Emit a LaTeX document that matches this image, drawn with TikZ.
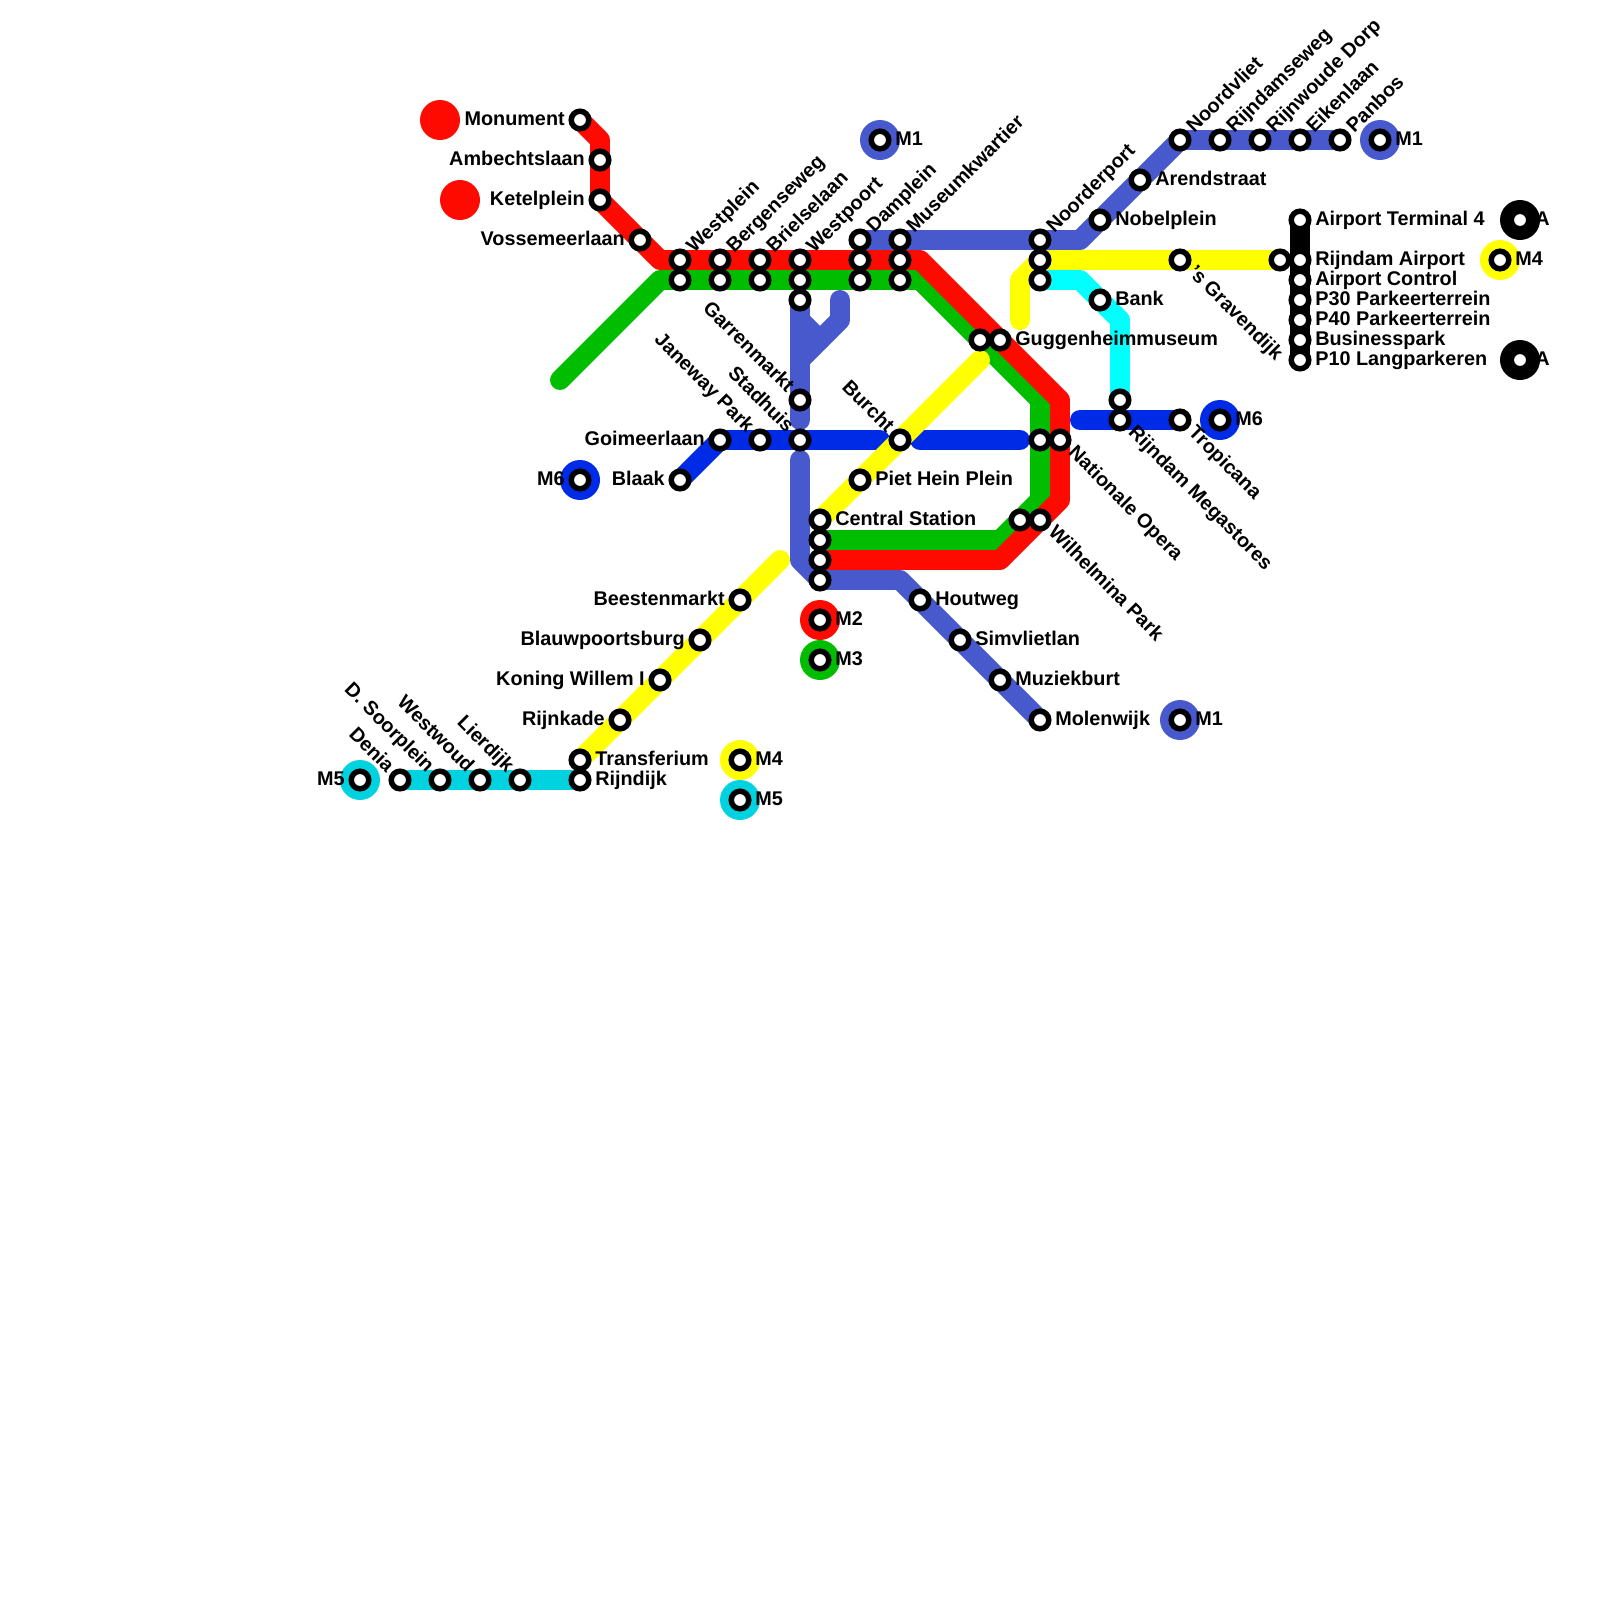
\documentclass[tikz,border=0pt]{standalone}
\usepackage{fontspec}
\setmainfont{Liberation Sans}
\usetikzlibrary{positioning}
\pgfdeclarelayer{lines}
\pgfsetlayers{lines,main}
\definecolor{mred}{HTML}{FF0A00}
\definecolor{mgreen}{HTML}{00BD00}
\definecolor{mblue}{HTML}{4759CC}
\definecolor{mroyal}{HTML}{002BE6}
\definecolor{myellow}{HTML}{FFFF00}
\definecolor{mcyan}{HTML}{00FFFF}
\definecolor{mteal}{HTML}{00D2E0}
\tikzset{
  stn/.style={circle, draw=black, fill=white, line width=3.9pt, minimum size=12.5pt, inner sep=0pt},
  term/.style={circle, fill=#1, minimum size=28.45pt, inner sep=0pt},
  route/.style={draw=#1, line width=14.2pt, line cap=round, line join=round},
  lbl/.style={font=\fontsize{14.1}{16}\selectfont\bfseries, inner sep=0pt, text height=10.2pt, text depth=3pt},
  lblr/.style={lbl, anchor=west},
  lbll/.style={lbl, anchor=east},
  lblu/.style={lbl, anchor=west, rotate=45},
  lbld/.style={lbl, anchor=west, rotate=-45},
  lblb/.style={lbl, anchor=east, rotate=-45}
}
\begin{document}
\begin{tikzpicture}[x=0.5cm, y=-0.5cm]
  \useasboundingbox (0,0) rectangle (80,80);

  % 终点大圆
  \foreach \n/\x/\y/\c in {tm1a/44/7/mblue, tm1b/69/7/mblue, tm1c/59/36/mblue, tm2/41/31/mred, tm3/41/33/mgreen,
    tm4a/37/38/myellow, tm4b/75/13/myellow, tm5a/37/40/mteal, tm5b/18/39/mteal, tm6a/29/24/mroyal, tm6b/61/21/mroyal,
    taa/76/11/black, tab/76/18/black, tra/22/6/mred, trb/23/10/mred}
    \node[term=\c] (\n) at (\x,\y) {};

  % 标签在右
  \foreach \n/\x/\y/\lab in {airport4/65/11/Airport Terminal 4, rijndamair/65/13/Rijndam Airport, control/65/14/Airport Control,
    ptrent/65/15/P30 Parkeerterrein, pforty/65/16/P40 Parkeerterrein, business/65/17/Businesspark, pten/65/18/P10 Langparkeren,
    arend/57/9/Arendstraat, nobel/55/11/Nobelplein, bank/55/15/Bank, guggen/50/17/Guggenheimmuseum,
    piethein/43/24/Piet Hein Plein, central/41/26/Central Station, houtweg/46/30/Houtweg, simvliet/48/32/Simvlietlan,
    muziek/50/34/Muziekburt, molenwijk/52/36/Molenwijk, transfer/29/38/Transferium, rijndijk/29/39/Rijndijk,
    em1a/44/7/M1, em1b/69/7/M1, em1c/59/36/M1, em2/41/31/M2, em3/41/33/M3, em4a/37/38/M4, em4b/75/13/M4,
    em5a/37/40/M5, em6b/61/21/M6, eaa/76/11/A, eab/76/18/A}
  {
    \node[stn] (\n) at (\x,\y) {};
    \node[lblr] (\n-t) at (\x+0.75,\y) {\lab};
  }

  % 标签在左
  \foreach \n/\x/\y/\lab in {monument/29/6/Monument, ambecht/30/8/Ambechtslaan, ketel/30/10/Ketelplein, vosse/32/12/Vossemeerlaan,
    goimeer/36/22/Goimeerlaan, blaak/34/24/Blaak, beesten/37/30/Beestenmarkt, blauw/35/32/Blauwpoortsburg,
    koning/33/34/Koning Willem I, rijnkade/31/36/Rijnkade, em5b/18/39/M5, em6a/29/24/M6}
  {
    \node[stn] (\n) at (\x,\y) {};
    \node[lbll] (\n-t) at (\x-0.75,\y) {\lab};
  }

  % 标签向右上
  \foreach \n/\x/\y/\lab in {westplein/34/13/Westplein, bergen/36/13/Bergenseweg, briel/38/13/Brielselaan, westpoort/40/13/Westpoort,
    damplein/43/12/Damplein, museum/45/12/Museumkwartier, noorder/52/12/Noorderport, noordvliet/59/7/Noordvliet,
    rijndamse/61/7/Rijndamseweg, rijnwoude/63/7/Rijnwoude Dorp, eiken/65/7/Eikenlaan, panbos/67/7/Panbos}
  {
    \node[stn] (\n) at (\x,\y) {};
    \node[lblu] (\n-t) at (\x+0.53,\y-0.47) {\lab};
  }

  % 标签向右下
  \foreach \n/\x/\y/\lab in {gravendijk/59/13/'s Gravendijk, megastores/56/21/Rijndam Megastores, tropicana/59/21/Tropicana,
    opera/53/22/Nationale Opera, wilhelmina/52/26/Wilhelmina Park}
  {
    \node[stn] (\n) at (\x,\y) {};
    \node[lbld] (\n-t) at (\x+0.55,\y+0.5) {\lab};
  }

  % 标签向左上
  \foreach \n/\x/\y/\lab in {garren/40/20/Garrenmarkt, janeway/38/22/Janeway Park, stadhuis/40/22/Stadhuis, burcht/45/22/Burcht,
    denia/20/39/Denia, soorplein/22/39/D. Soorplein, westwoud/24/39/Westwoud, lierdijk/26/39/Lierdijk}
  {
    \node[stn] (\n) at (\x,\y) {};
    \node[lblb] (\n-t) at (\x-0.5,\y-0.5) {\lab};
  }

  % 无标签的站
  \foreach \n/\x/\y in {westplein2/34/14, bergen2/36/14, briel2/38/14, westpoort2/40/14, westpoort3/40/15,
    damplein2/43/13, damplein3/43/14, museum2/45/13, museum3/45/14, noorder2/52/13, noorder3/52/14,
    guggen2/49/17, megastores2/56/20, airportw/64/13, opera2/52/22, wilhelmina2/51/26,
    central2/41/27, central3/41/28, central4/41/29}
    \node[stn] (\n) at (\x,\y) {};

  % 转折点与线头
  \foreach \n/\x/\y in {r1/30/7, r2/33/13, r3/46/13, r4/53/20, r5/53/25, r6/50/28,
    g0/28/19, g1/33/14, g2/46/14, g3/52/20, g4/52/25, g5/50/27,
    b1/54/12, b2/42/15, b3/42/16, b4/41/17, b5/40/18, b6/40/16, b7/40/21, b8/40/23, b9/40/28, b10/45/29,
    l1/54/14, l2/56/16, y1/51/14, y2/51/16, y3/49/18, y4/39/28,
    k1/44/22, k2/46/22, k3/51/22, k4/54/21}
    \coordinate (\n) at (\x,\y);

  % 线路
  \begin{pgfonlayer}{lines}
    \draw[route=mblue] (panbos.center) -- (noordvliet.center) -- (b1) -- (damplein.center);
    \draw[route=mblue] (westpoort3.center) -- (b7);
    \draw[route=mblue] (b2) -- (b3) -- (b5);
    \draw[route=mblue] (b6) -- (b4);
    \draw[route=mblue] (b8) -- (b9) -- (central4.center) -- (b10) -- (molenwijk.center);
    \draw[route=mgreen] (g0) -- (g1) -- (g2) -- (g3) -- (g4) -- (g5) -- (central2.center);
    \draw[route=mred] (monument.center) -- (r1) -- (ketel.center) -- (r2) -- (r3) -- (r4) -- (r5) -- (r6) -- (central3.center);
    \draw[route=mroyal] (blaak.center) -- (goimeer.center) -- (k1);
    \draw[route=mroyal] (k2) -- (k3);
    \draw[route=mroyal] (k4) -- (tropicana.center);
    \draw[route=mcyan] (noorder3.center) -- (l1) -- (l2) -- (megastores2.center);
    \draw[route=myellow] (airportw.center) -- (noorder2.center) -- (y1) -- (y2);
    \draw[route=myellow] (y3) -- (central.center);
    \draw[route=myellow] (y4) -- (transfer.center);
    \draw[route=mteal] (denia.center) -- (rijndijk.center);
    \draw[route=black] (airport4.center) -- (pten.center);
  \end{pgfonlayer}
\end{tikzpicture}
\end{document}
